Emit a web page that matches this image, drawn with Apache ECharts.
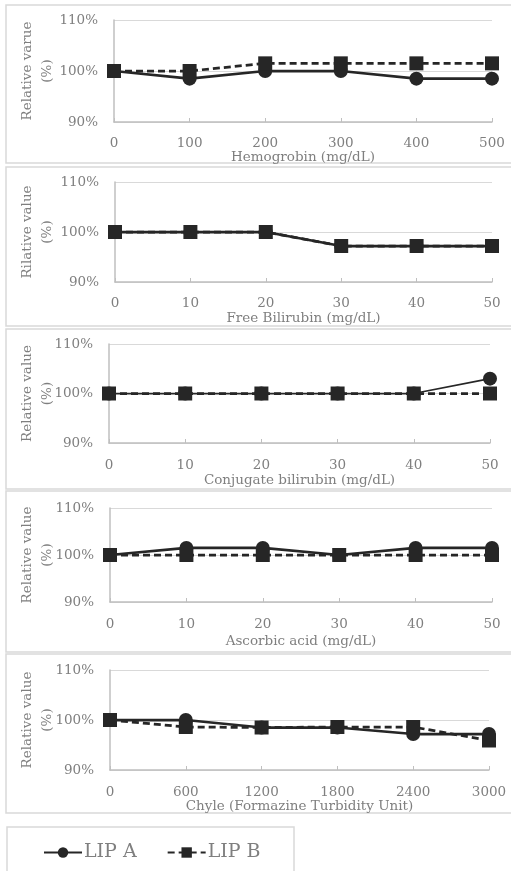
<!DOCTYPE html>
<html>
<head>
<meta charset="utf-8">
<script src="https://cdn.jsdelivr.net/npm/echarts@6/dist/echarts.min.js"></script>
<style>
  html, body { margin: 0; padding: 0; background: #fff; }
  #chart { width: 511px; height: 871px; }
</style>
</head>
<body>
<div id="chart"></div>
<script>
// Interference test: relative value of LIP A / LIP B versus interferent concentration
const hemoX = [0, 100, 200, 300, 400, 500];
const hemoA = [100, 98.5, 100, 100, 98.5, 98.5];
const hemoB = [100, 100, 101.5, 101.5, 101.5, 101.5];

const biliX = [0, 10, 20, 30, 40, 50];
const freeBiliA = [100, 100, 100, 97.2, 97.2, 97.2];
const freeBiliB = [100, 100, 100, 97.2, 97.2, 97.2];

const conjBiliA = [100, 100, 100, 100, 100, 103];
const conjBiliB = [100, 100, 100, 100, 100, 100];

const ascorbicX = [0, 10, 20, 30, 40, 50];
const ascorbicA = [100, 101.5, 101.5, 100, 101.5, 101.5];
const ascorbicB = [100, 100, 100, 100, 100, 100];

const chyleX = [0, 600, 1200, 1800, 2400, 3000];
const chyleA = [100, 100, 98.5, 98.5, 97.2, 97.2];
const chyleB = [100, 98.6, 98.5, 98.6, 98.6, 95.9];

const yTicks = [90, 100, 110];
const xTitles = ['Hemogrobin (mg/dL)', 'Free Bilirubin (mg/dL)', 'Conjugate bilirubin (mg/dL)',
                 'Ascorbic acid (mg/dL)', 'Chyle (Formazine Turbidity Unit)'];
const yTitles = ['Relative varue', 'Rilative value', 'Relative value', 'Relative value', 'Relative value'];
const yUnit = '(%)';
const seriesNames = ['LIP A', 'LIP B'];

const panels = [
  { x: hemoX, a: hemoA, b: hemoB, step: 100 },
  { x: biliX, a: freeBiliA, b: freeBiliB, step: 10 },
  { x: biliX, a: conjBiliA, b: conjBiliB, step: 10, thinA: true },
  { x: ascorbicX, a: ascorbicA, b: ascorbicB, step: 10 },
  { x: chyleX, a: chyleA, b: chyleB, step: 600 }
];

// plot-area layout of each panel
const grids = [
  { left: 114, right: 19, top: 20, height: 102, labelGap: 14, nameGap: 26 },
  { left: 115, right: 19, top: 182, height: 100, labelGap: 14, nameGap: 29 },
  { left: 109, right: 21, top: 344, height: 99, labelGap: 15, nameGap: 30 },
  { left: 110, right: 19, top: 508, height: 94, labelGap: 15, nameGap: 32 },
  { left: 110, right: 22, top: 670, height: 100, labelGap: 15, nameGap: 25 }
];
// panel frames: x, y, height
const frames = [
  [6, 5, 158], [6, 167, 159], [6, 329, 160], [6, 491, 161], [6, 654, 159]
];

const FONT = 'DejaVu Serif';
const FS = 13.5;
const TEXT = '#7f7f7f';
const INK = '#262626';

const graphics = [];
frames.forEach(f => graphics.push({
  type: 'rect', silent: true, z: -1,
  shape: { x: f[0], y: f[1], width: 520, height: f[2] },
  style: { fill: 'none', stroke: '#d9d9d9', lineWidth: 1.5 }
}));
graphics.push({
  type: 'rect', silent: true, z: -1,
  shape: { x: 7, y: 827, width: 287, height: 60 },
  style: { fill: 'none', stroke: '#d9d9d9', lineWidth: 1.5 }
});
// rotated two-line y-axis titles
grids.forEach((g, i) => {
  const cy = g.top + g.height / 2;
  [[yTitles[i], 27], [yUnit, 47]].forEach(([txt, cx]) => graphics.push({
    type: 'text', silent: true, x: cx, y: cy, rotation: Math.PI / 2,
    style: { text: txt, fill: TEXT, font: FS + 'px "' + FONT + '"', align: 'center', verticalAlign: 'middle' }
  }));
});

const option = {
  backgroundColor: '#fff',
  animation: false,
  textStyle: { fontFamily: FONT },
  grid: grids.map(g => ({ left: g.left, right: g.right, top: g.top, height: g.height })),
  xAxis: panels.map((p, i) => ({
    type: 'value', gridIndex: i,
    min: p.x[0], max: p.x[p.x.length - 1], interval: p.step,
    name: xTitles[i], nameLocation: 'middle', nameGap: grids[i].nameGap,
    nameTextStyle: { color: TEXT, fontSize: FS, fontFamily: FONT },
    axisLine: { show: true, lineStyle: { color: '#bfbfbf', width: 1.5 } },
    axisTick: { show: true, inside: true, length: 4, lineStyle: { color: '#bfbfbf', width: 1 } },
    axisLabel: { color: TEXT, fontSize: FS, fontFamily: FONT, margin: grids[i].labelGap,
                 formatter: v => String(v) },
    splitLine: { show: false }
  })),
  yAxis: panels.map((p, i) => ({
    type: 'value', gridIndex: i,
    min: yTicks[0], max: yTicks[yTicks.length - 1], interval: yTicks[1] - yTicks[0],
    axisLine: { show: true, lineStyle: { color: '#bfbfbf', width: 1.5 } },
    axisTick: { show: false },
    axisLabel: { color: TEXT, fontSize: FS, fontFamily: FONT, margin: 16, formatter: '{value}%' },
    splitLine: { show: true, lineStyle: { color: '#d9d9d9', width: 1 } }
  })),
  legend: {
    left: 38, top: 838,
    itemWidth: 38, itemHeight: 13, itemGap: 30,
    data: seriesNames,
    textStyle: { color: TEXT, fontSize: 19, fontFamily: FONT, padding: [0, 0, 0, -3] }
  },
  graphic: graphics,
  series: []
};

panels.forEach((p, i) => {
  option.series.push({
    name: seriesNames[0], type: 'line', xAxisIndex: i, yAxisIndex: i,
    data: p.x.map((v, k) => [v, p.a[k]]),
    symbol: 'circle', symbolSize: 14,
    itemStyle: { color: INK },
    lineStyle: { color: INK, width: p.thinA ? 1.75 : 2.75 }
  });
  option.series.push({
    name: seriesNames[1], type: 'line', xAxisIndex: i, yAxisIndex: i,
    data: p.x.map((v, k) => [v, p.b[k]]),
    symbol: 'rect', symbolSize: 14,
    itemStyle: { color: INK },
    lineStyle: { color: INK, width: 2.75, type: [7, 4] }
  });
});

const chart = echarts.init(document.getElementById('chart'), null, { renderer: 'canvas' });
chart.setOption(option);
</script>
</body>
</html>
